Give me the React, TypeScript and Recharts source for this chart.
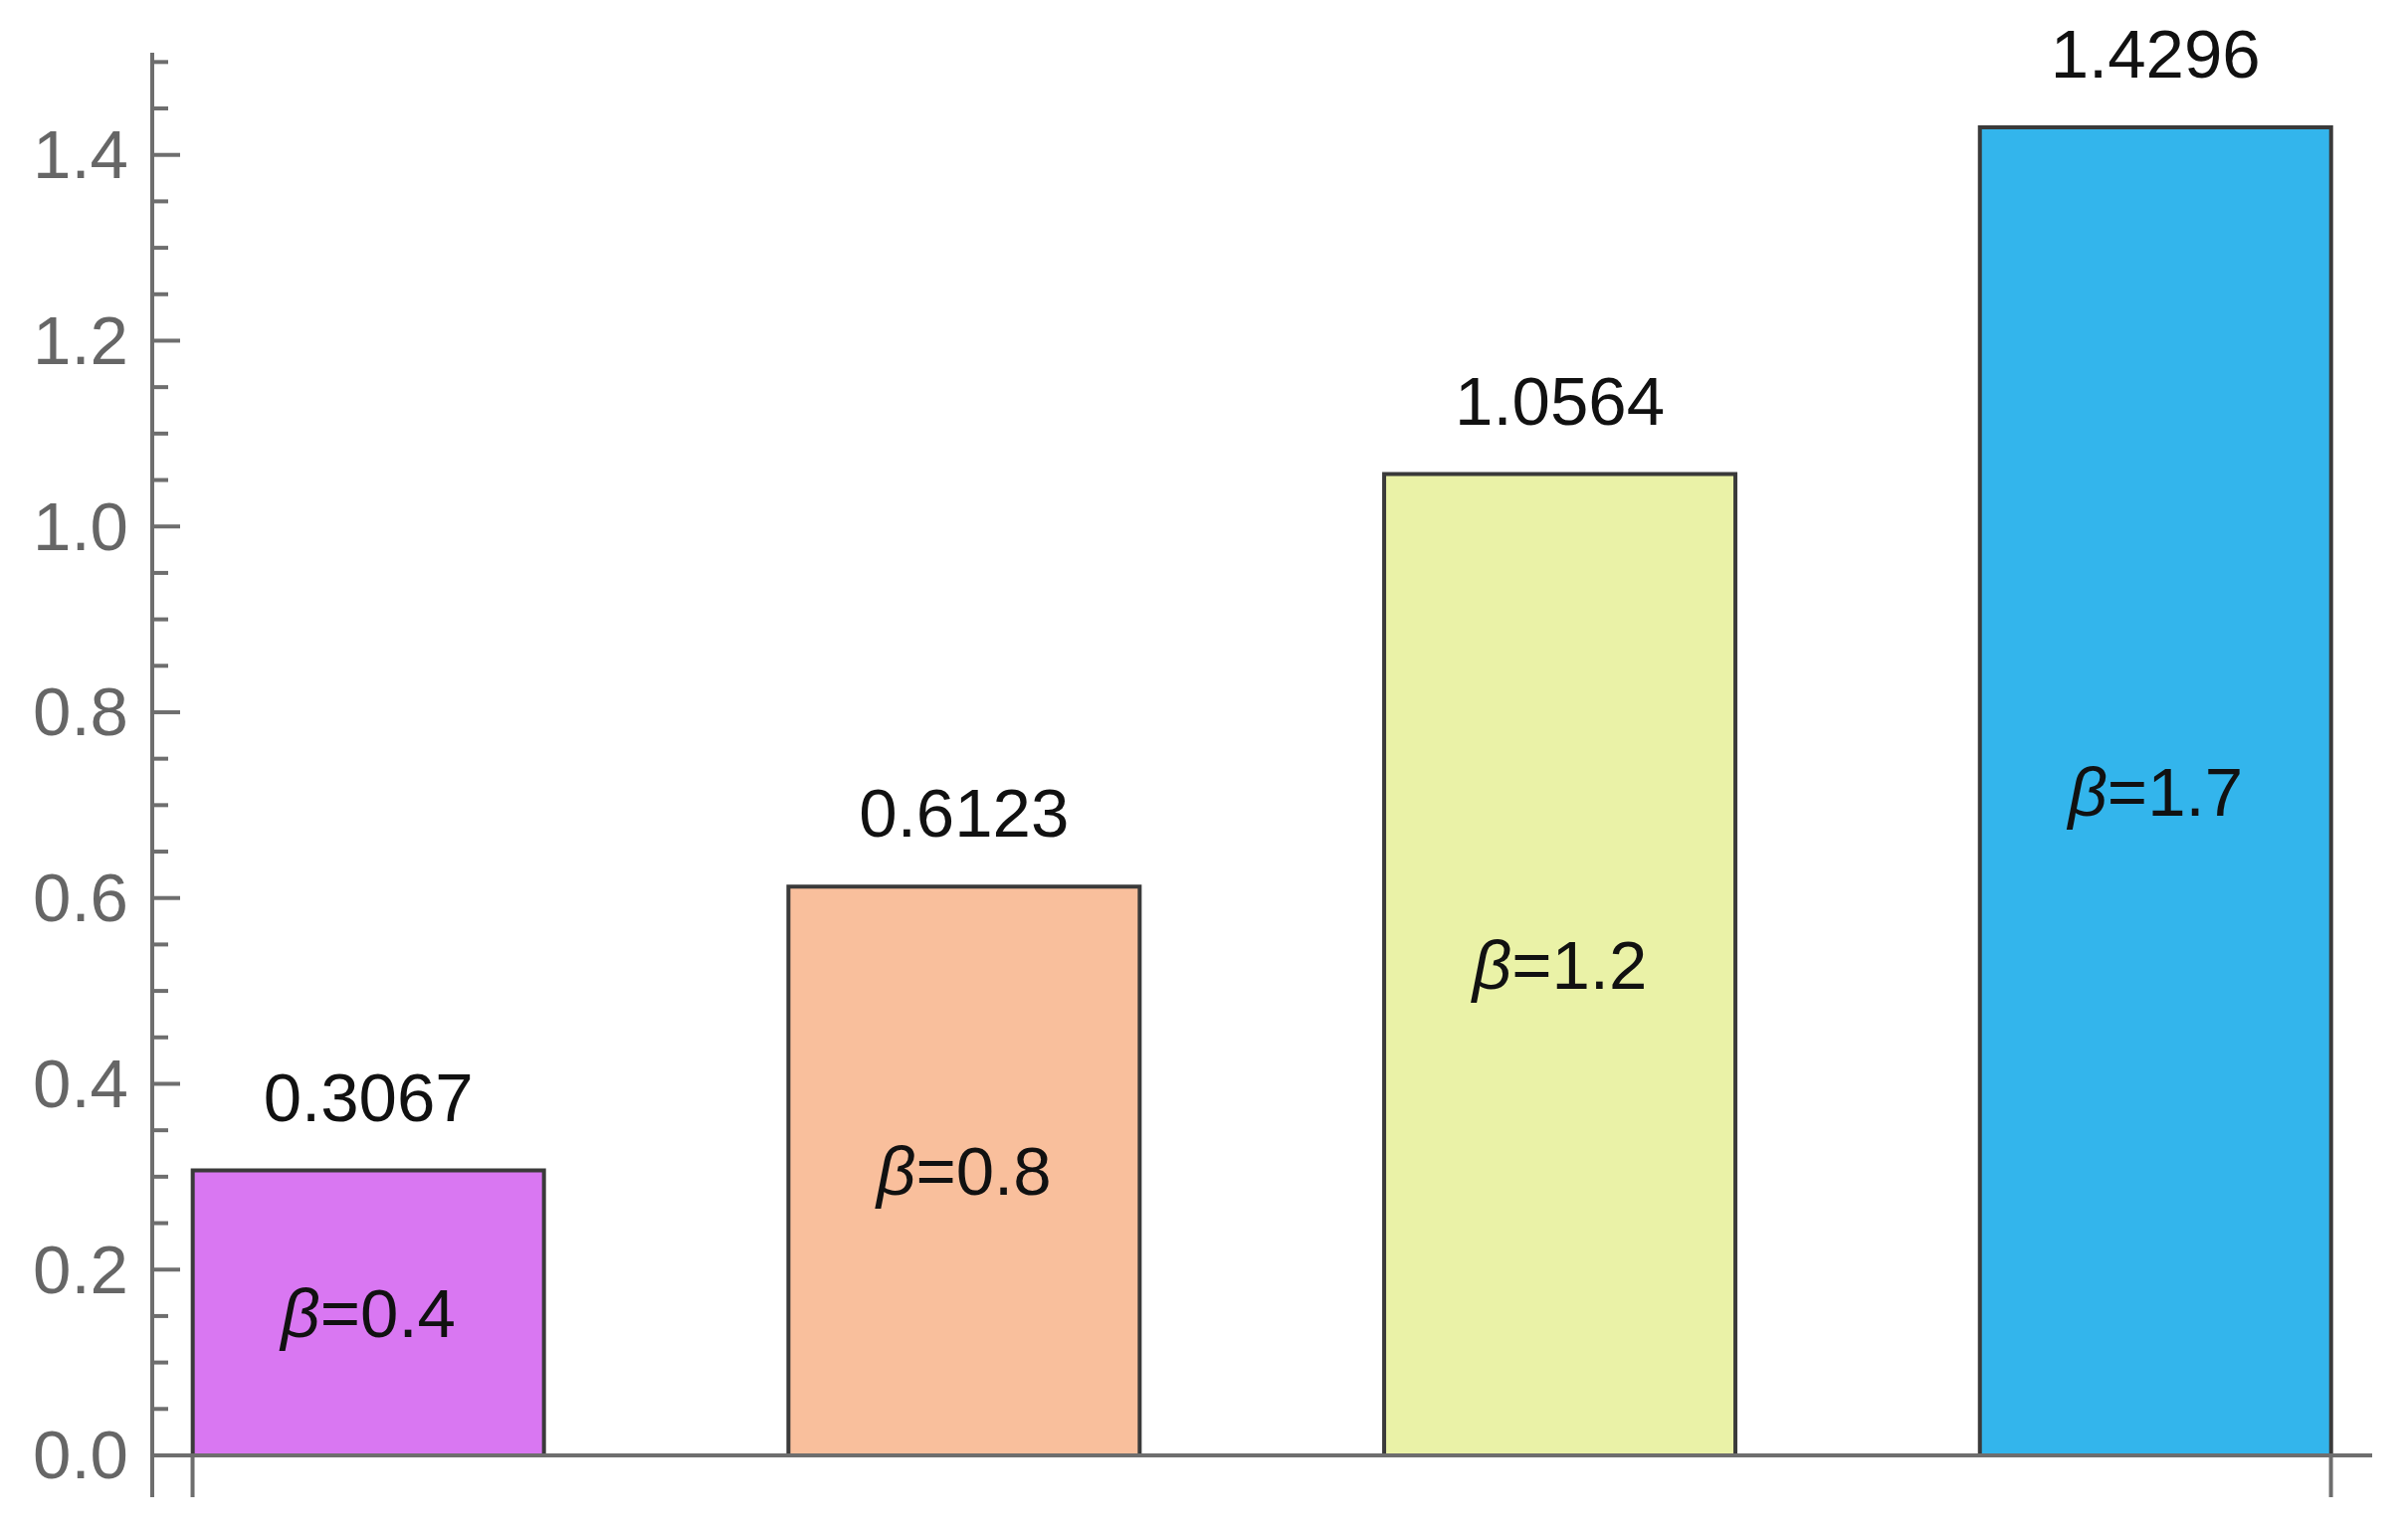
import { BarChart, Bar, XAxis, YAxis, Cell, LabelList, ReferenceLine } from "recharts";

const categories = ["β=0.4", "β=0.8", "β=1.2", "β=1.7"];
const values = [0.3067, 0.6123, 1.0564, 1.4296];
const barColors = ["#d977f2", "#f9bf9c", "#eaf2a7", "#33b5ec"];
const yTicks = [
  0, 0.05, 0.1, 0.15, 0.2, 0.25, 0.3, 0.35, 0.4, 0.45, 0.5, 0.55, 0.6, 0.65, 0.7, 0.75,
  0.8, 0.85, 0.9, 0.95, 1.0, 1.05, 1.1, 1.15, 1.2, 1.25, 1.3, 1.35, 1.4, 1.45, 1.5,
];
const yLabels = [0, 0.2, 0.4, 0.6, 0.8, 1.0, 1.2, 1.4];

const data = categories.map((name, i) => ({ name, slot: i + 1, value: values[i] }));

const W = 2420;
const H = 1541;
const AXIS_X = 153;
const BAR_SIZE = 353;
const HALF_BAR = 0.2948; // half bar width in slot units
const FONT = "'Liberation Sans', Arial, sans-serif";
const FONT_SIZE = 69;
const AXIS_COLOR = "#6e6e6e";

const YTick = (props: any) => {
  const { y, payload } = props;
  const v = payload.value;
  const major = yLabels.some((l) => Math.abs(l - v) < 1e-6);
  return (
    <g>
      <line x1={AXIS_X} x2={AXIS_X + (major ? 28 : 16)} y1={y} y2={y} stroke={AXIS_COLOR} strokeWidth={4} />
      {major && (
        <text x={AXIS_X - 24} y={y} textAnchor="end" dominantBaseline="central" fontSize={FONT_SIZE} fill="#666" fontFamily={FONT}>
          {v.toFixed(1)}
        </text>
      )}
    </g>
  );
};

const InsideLabel = (props: any) => {
  const { x, y, width, height, value } = props;
  const [sym, rest] = String(value).split("=");
  return (
    <text x={x + width / 2} y={y + height / 2} textAnchor="middle" dominantBaseline="central" fontSize={FONT_SIZE} fill="#111" fontFamily={FONT}>
      <tspan fontStyle="italic">{sym}</tspan>
      <tspan>={rest}</tspan>
    </text>
  );
};

const TopLabel = (props: any) => {
  const { x, y, width, value } = props;
  return (
    <text x={x + width / 2} y={y - 50} textAnchor="middle" fontSize={FONT_SIZE} fill="#111" fontFamily={FONT}>
      {Number(value).toFixed(4)}
    </text>
  );
};

export default function App() {
  return (
    <div style={{ position: "absolute", left: 0, top: 0, width: W, height: H, background: "#fff" }}>
      <BarChart width={W} height={H} data={data} margin={{ top: 53, right: 36, bottom: 36, left: 0 }}>
        <XAxis type="number" dataKey="slot" domain={[0.6375, 4.364]} allowDataOverflow hide />
        <YAxis
          type="number"
          domain={[-0.045, 1.51]}
          allowDataOverflow
          ticks={yTicks}
          interval={0}
          width={AXIS_X}
          axisLine={{ stroke: AXIS_COLOR, strokeWidth: 4 }}
          tickLine={false}
          tick={<YTick />}
        />
        <ReferenceLine y={0} stroke={AXIS_COLOR} strokeWidth={4} />
        <ReferenceLine
          segment={[{ x: 1 - HALF_BAR, y: 0 }, { x: 1 - HALF_BAR, y: -0.045 }]}
          stroke={AXIS_COLOR}
          strokeWidth={4}
        />
        <ReferenceLine
          segment={[{ x: 4 + HALF_BAR, y: 0 }, { x: 4 + HALF_BAR, y: -0.045 }]}
          stroke={AXIS_COLOR}
          strokeWidth={4}
        />
        <Bar dataKey="value" barSize={BAR_SIZE} stroke="#3a3a3a" strokeWidth={4} isAnimationActive={false}>
          {data.map((d, i) => (
            <Cell key={d.name} fill={barColors[i]} />
          ))}
          <LabelList dataKey="name" content={<InsideLabel />} />
          <LabelList dataKey="value" content={<TopLabel />} />
        </Bar>
      </BarChart>
    </div>
  );
}
